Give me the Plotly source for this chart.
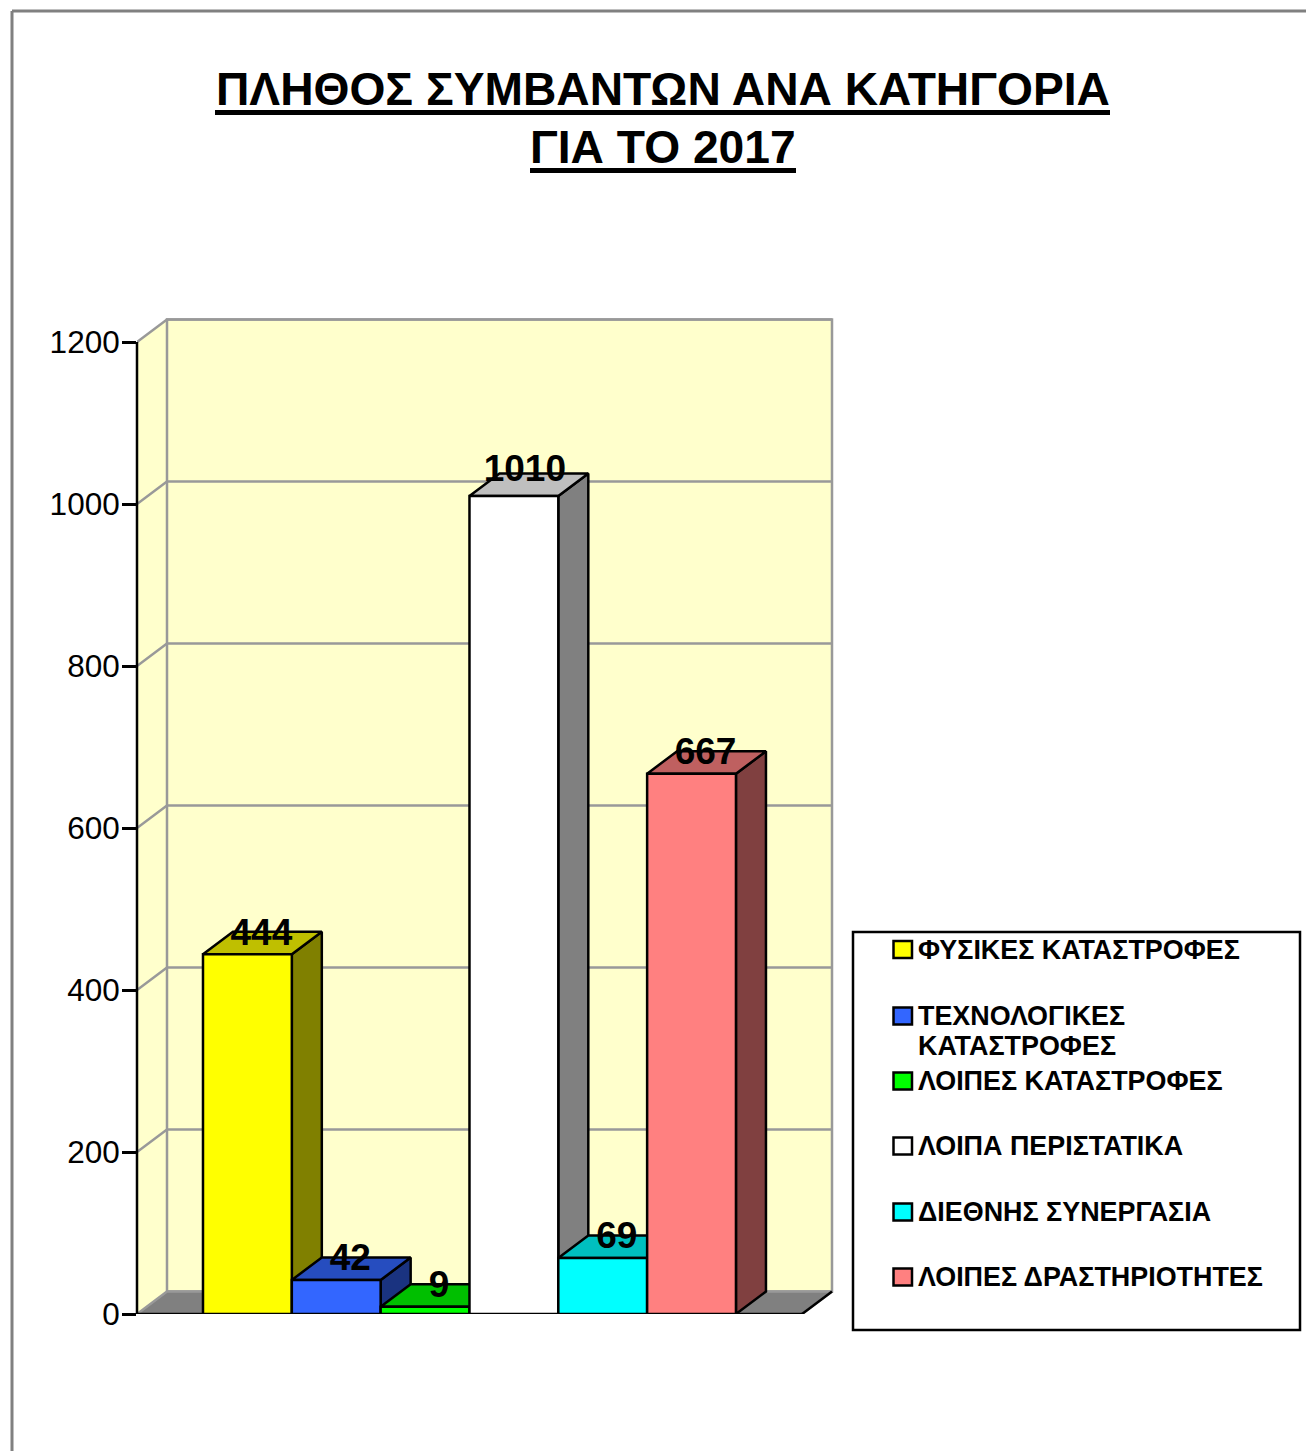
import plotly.graph_objects as go

# --- data ---
CATEGORIES = ["ΦΥΣΙΚΕΣ ΚΑΤΑΣΤΡΟΦΕΣ", "ΤΕΧΝΟΛΟΓΙΚΕΣ<br>ΚΑΤΑΣΤΡΟΦΕΣ", "ΛΟΙΠΕΣ ΚΑΤΑΣΤΡΟΦΕΣ",
              "ΛΟΙΠΑ ΠΕΡΙΣΤΑΤΙΚΑ", "ΔΙΕΘΝΗΣ ΣΥΝΕΡΓΑΣΙΑ", "ΛΟΙΠΕΣ ΔΡΑΣΤΗΡΙΟΤΗΤΕΣ"]
VALUES = [444, 42, 9, 1010, 69, 667]
FRONT = ["#FFFF00", "#3366FF", "#00FF00", "#FFFFFF", "#00FFFF", "#FF8080"]
TOP = ["#BFBF00", "#264DBF", "#00BF00", "#BFBFBF", "#00BFBF", "#BF6060"]
SIDE = ["#808000", "#1A3380", "#008000", "#808080", "#008080", "#804040"]
TICKS = [0, 200, 400, 600, 800, 1000, 1200]
TITLE_LINES = ["ΠΛΗΘΟΣ ΣΥΜΒΑΝΤΩΝ ΑΝΑ ΚΑΤΗΓΟΡΙΑ", "ΓΙΑ ΤΟ 2017"]

# --- layout geometry (page pixels) ---
W, H = 1306, 1451
L, R, T, B = 137, 840, 300, 1314
PX_PER_UNIT = 0.81
BAR_W = 88.83
BAR0 = 247.4
DX = 30 / BAR_W      # depth in category units
DY = 22.5 / PX_PER_UNIT  # depth in value units
XR = [(L - BAR0) / BAR_W, (R - BAR0) / BAR_W]
YR = [0, (B - T) / PX_PER_UNIT]
X_LEFT = XR[0]
X_FRONT_RIGHT = (802 - BAR0) / BAR_W
WALL = "#FFFFCC"
GRID = "#999999"
LW = 2.5


def px(x):
    return (x - L) / (R - L)


def py(y):
    return (B - y) / (B - T)


def poly(xs, ys, fill, line="black", lw=LW):
    return go.Scatter(x=xs, y=ys, mode="lines", fill="toself", fillcolor=fill,
                      line=dict(color=line, width=lw), hoverinfo="skip",
                      showlegend=False, cliponaxis=False)


def seg(xs, ys, color, lw=LW):
    return go.Scatter(x=xs, y=ys, mode="lines", line=dict(color=color, width=lw),
                      hoverinfo="skip", showlegend=False, cliponaxis=False)


fig = go.Figure()
top_v = TICKS[-1]

# walls and floor
fig.add_trace(poly([X_LEFT, X_LEFT + DX, X_LEFT + DX, X_LEFT, X_LEFT],
                   [0, DY, top_v + DY, top_v, 0], WALL, WALL, 1))
fig.add_trace(poly([X_LEFT + DX, X_FRONT_RIGHT + DX, X_FRONT_RIGHT + DX, X_LEFT + DX, X_LEFT + DX],
                   [DY, DY, top_v + DY, top_v + DY, DY], WALL, GRID))
fig.add_trace(poly([X_LEFT, X_LEFT + DX, X_FRONT_RIGHT + DX, X_FRONT_RIGHT, X_LEFT],
                   [0, DY, DY, 0, 0], "#808080", GRID))
fig.add_trace(seg([X_FRONT_RIGHT, X_FRONT_RIGHT + DX], [0, DY], "black"))
for t in TICKS[1:]:
    fig.add_trace(seg([X_LEFT, X_LEFT + DX, X_FRONT_RIGHT + DX], [t, t + DY, t + DY], GRID))
fig.add_trace(seg([X_LEFT, X_FRONT_RIGHT], [0, 0], "black"))

# side and top faces, left to right
for i, v in enumerate(VALUES):
    r = i + 0.5
    l = i - 0.5
    fig.add_trace(poly([r, r + DX, r + DX, r, r], [0, DY, v + DY, v, 0], SIDE[i]))
    fig.add_trace(poly([l, l + DX, r + DX, r, l], [v, v + DY, v + DY, v, v], TOP[i]))

# front faces on an overlay so they cover the neighbours' side faces
for i, v in enumerate(VALUES):
    label = CATEGORIES[i].replace("<br>", " ")
    fig.add_trace(go.Bar(x=[i], y=[v], width=[1], marker=dict(color=FRONT[i], line=dict(color="black", width=LW)),
                         name=label, showlegend=False, xaxis="x2", yaxis="y2",
                         cliponaxis=False, hovertemplate="%{y}<extra>" + label + "</extra>"))

fig.add_trace(go.Scatter(x=[i + DX / 2 - ((4 if v >= 1000 else 1) / BAR_W) for i, v in enumerate(VALUES)],
                         y=[v + DY + ((2 if v >= 1000 else -3.5) / PX_PER_UNIT) for v in VALUES],
                         mode="text", text=[str(v) for v in VALUES], textposition="middle center",
                         textfont=dict(family="Liberation Sans", size=37, color="black", weight="bold"),
                         showlegend=False, hoverinfo="skip", xaxis="x2", yaxis="y2", cliponaxis=False))

shapes = [
    dict(type="line", xref="paper", yref="paper", x0=px(12), x1=px(W), y0=py(11), y1=py(11),
         line=dict(color="#808080", width=3)),
    dict(type="line", xref="paper", yref="paper", x0=px(12), x1=px(12), y0=py(11), y1=py(H),
         line=dict(color="#808080", width=3)),
    dict(type="rect", xref="paper", yref="paper", x0=px(853), x1=px(1300), y0=py(932), y1=py(1330),
         line=dict(color="black", width=LW), fillcolor="white"),
    dict(type="line", xref="paper", yref="paper", x0=px(L), x1=px(L), y0=py(B), y1=py(B - top_v * PX_PER_UNIT),
         line=dict(color="black", width=LW)),
]
annotations = []
TITLE_BOX = [(663, 88.5, 215, 1110, 112.5), (663, 147, 530, 796, 170.5)]
for txt, (xc, yc, u0, u1, uy) in zip(TITLE_LINES, TITLE_BOX):
    annotations.append(dict(xref="paper", yref="paper", x=px(xc), y=py(yc), xanchor="center", yanchor="middle",
                            text=txt, showarrow=False,
                            font=dict(family="Liberation Sans", size=46.2, color="black", weight="bold")))
    shapes.append(dict(type="line", xref="paper", yref="paper", x0=px(u0), x1=px(u1), y0=py(uy), y1=py(uy),
                       line=dict(color="black", width=5)))

LEG_Y = [949.5, 1016, 1081, 1146, 1212, 1277]
for name, col, yc in zip(CATEGORIES, FRONT, LEG_Y):
    shapes.append(dict(type="rect", xref="paper", yref="paper", x0=px(893.5), x1=px(912), y0=py(yc - 8.5), y1=py(yc + 8.5),
                       line=dict(color="black", width=LW), fillcolor=col))
    parts = name.split("<br>")
    for j, part in enumerate(parts):
        annotations.append(dict(xref="paper", yref="paper", x=px(918), y=py(yc + j * 30), xanchor="left", yanchor="middle",
                                text=part, showarrow=False, xshift=-2,
                                font=dict(family="Liberation Sans", size=26.9, color="black", weight="bold")))

fig.update_layout(
    width=W, height=H, autosize=False,
    margin=dict(l=L, r=W - R, t=T, b=H - B, pad=0),
    paper_bgcolor="white", plot_bgcolor="white",
    barmode="overlay", showlegend=False,
    shapes=shapes, annotations=annotations,
    xaxis=dict(range=XR, visible=False, fixedrange=True),
    yaxis=dict(range=YR, tickvals=TICKS, ticks="outside", ticklen=14, tickwidth=LW, tickcolor="black",
               ticklabelstandoff=-4, showgrid=False, zeroline=False, showline=False, fixedrange=True,
               tickfont=dict(family="Liberation Sans", size=31.5, color="black")),
    xaxis2=dict(range=XR, visible=False, overlaying="x", fixedrange=True),
    yaxis2=dict(range=YR, visible=False, overlaying="y", fixedrange=True),
)

fig.write_html("out.html", post_script="document.body.style.margin='0';", config={"displayModeBar": False})
